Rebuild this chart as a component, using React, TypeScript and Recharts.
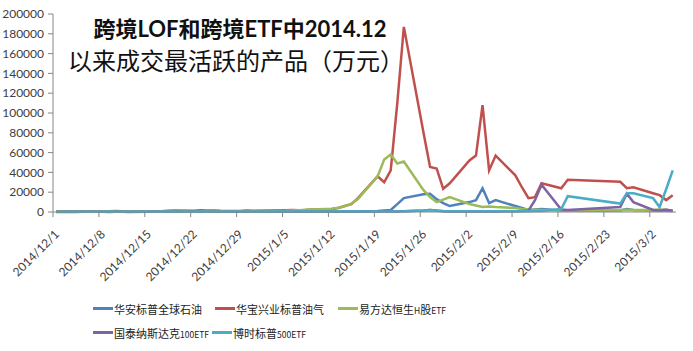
import React from 'react';
import { LineChart, Line, XAxis, YAxis, Legend } from 'recharts';

// trading days (x axis is a date axis, weekends/holidays are skipped)
const tradeDates = [
  '2014/12/1', '2014/12/2', '2014/12/3', '2014/12/4', '2014/12/5',
  '2014/12/8', '2014/12/9', '2014/12/10', '2014/12/11', '2014/12/12',
  '2014/12/15', '2014/12/16', '2014/12/17', '2014/12/18', '2014/12/19',
  '2014/12/22', '2014/12/23', '2014/12/24', '2014/12/25', '2014/12/26',
  '2014/12/29', '2014/12/30', '2014/12/31',
  '2015/1/5', '2015/1/6', '2015/1/7', '2015/1/8', '2015/1/9',
  '2015/1/12', '2015/1/13', '2015/1/14', '2015/1/15', '2015/1/16',
  '2015/1/19', '2015/1/20', '2015/1/21', '2015/1/22', '2015/1/23',
  '2015/1/26', '2015/1/27', '2015/1/28', '2015/1/29', '2015/1/30',
  '2015/2/2', '2015/2/3', '2015/2/4', '2015/2/5', '2015/2/6',
  '2015/2/9', '2015/2/10', '2015/2/11', '2015/2/12', '2015/2/13',
  '2015/2/16', '2015/2/17',
  '2015/2/25', '2015/2/26', '2015/2/27',
  '2015/3/2', '2015/3/3', '2015/3/4', '2015/3/5',
];

const tickLabels = [
  '2014/12/1', '2014/12/8', '2014/12/15', '2014/12/22', '2014/12/29',
  '2015/1/5', '2015/1/12', '2015/1/19', '2015/1/26', '2015/2/2',
  '2015/2/9', '2015/2/16', '2015/2/23', '2015/3/2',
];

const yTicks = [0, 20000, 40000, 60000, 80000, 100000, 120000, 140000, 160000, 180000, 200000];

// 华安标普全球石油
const huaAn = [
  200, 200, 300, 200, 200, 300, 200, 300, 200, 300, 300, 200, 300, 400, 300, 300, 400, 300, 300, 200, 300, 300, 400,
  400, 500, 400, 500, 600, 500, 600, 700, 600, 800, 900, 1500, 2000, 8000, 14000, 18000, 18500, 13000, 9000, 6000,
  10000, 12000, 24000, 9000, 12000, 6000, 4000, 2000, 2500, 3000, 1500, 1500, 1500, 3000, 2000,
  1500, 1500, 1200, 1000,
];
// 华宝兴业标普油气
const huaBao = [
  600, 500, 500, 600, 700, 600, 800, 900, 700, 600, 700, 600, 800, 1200, 1500, 1300, 1800, 1600, 1400, 1200, 1100, 1500, 1300,
  1800, 2000, 1700, 1900, 2500, 3000, 4000, 6000, 8000, 14000, 36000, 30000, 42000, 110000, 187000, 80000, 45500, 44000, 23500, 29000,
  52000, 57000, 108000, 42000, 57000, 37000, 25000, 14000, 15000, 29000, 24000, 32500, 30500, 24000, 25000,
  19000, 17000, 12000, 17000,
];
// 易方达恒生H股ETF
const yiFangDa = [
  300, 300, 400, 300, 400, 400, 500, 400, 400, 500, 600, 500, 600, 700, 800, 600, 700, 900, 800, 700, 600, 700, 800,
  1200, 1500, 1800, 2200, 2500, 3200, 4200, 6000, 8500, 13000, 36000, 53000, 58000, 49000, 51000, 22000, 15000, 10000, 12500, 15000,
  8000, 6500, 5000, 5500, 5000, 4000, 3000, 2500, 2200, 2000, 1800, 1600, 2000, 2200, 2000,
  2200, 2500, 2000, 1800,
];
// 国泰纳斯达克100ETF
const guoTai = [
  100, 100, 200, 100, 200, 200, 100, 200, 200, 100, 200, 200, 300, 200, 200, 300, 200, 200, 300, 200, 200, 300, 200,
  300, 300, 200, 300, 300, 400, 300, 300, 400, 300, 400, 500, 400, 600, 800, 1500, 2000, 1500, 800, 600,
  500, 600, 500, 600, 500, 800, 1000, 1500, 12000, 27500, 2500, 2000, 5000, 18500, 10000,
  2000, 1500, 2500, 1000,
];
// 博时标普500ETF
const boShi = [
  300, 300, 300, 300, 300, 300, 400, 300, 300, 300, 400, 300, 300, 400, 300, 300, 400, 300, 300, 300, 400, 300, 300,
  400, 400, 400, 500, 400, 500, 400, 500, 500, 400, 500, 600, 500, 600, 700, 1500, 2000, 1200, 900, 800,
  800, 700, 800, 700, 800, 700, 700, 800, 900, 1000, 3000, 16000, 8500, 19000, 19000,
  14000, 5000, 23000, 42000,
];

const series = [
  { key: 'huaAn', name: '华安标普全球石油', color: '#4F81BD', values: huaAn },
  { key: 'huaBao', name: '华宝兴业标普油气', color: '#C0504D', values: huaBao },
  { key: 'yiFangDa', name: '易方达恒生H股ETF', color: '#9BBB59', values: yiFangDa },
  { key: 'guoTai', name: '国泰纳斯达克100ETF', color: '#8064A2', values: guoTai },
  { key: 'boShi', name: '博时标普500ETF', color: '#4BACC6', values: boShi },
];

const dayOf = (s: string) => {
  const [y, m, d] = s.split('/').map(Number);
  return (Date.UTC(y, m - 1, d) - Date.UTC(2014, 11, 1)) / 86400000;
};

// points sit in the middle of their day slot, like an Excel date axis
const data = tradeDates.map((d, i) => {
  const row: Record<string, number | string> = { x: dayOf(d) + 0.5, date: d };
  series.forEach((s) => { row[s.key] = s.values[i]; });
  return row;
});

const xTicks = tickLabels.map(dayOf);
const labelOf: Record<number, string> = {};
tickLabels.forEach((t) => { labelOf[dayOf(t)] = t; });

const XTick = ({ x, y, payload }: any) => (
  <g transform={`translate(${x + 7},${y + 16})`}>
    <text x={0} y={0} transform="rotate(-45)" textAnchor="end" fontSize={12} fill="#404040" fontFamily="Lato, 'Noto Sans', sans-serif">
      {labelOf[payload.value]}
    </text>
  </g>
);

// legend item left edges, row by row
const legendLefts = [93, 215, 338, 93, 212];

// latin part of the names is set smaller, as in the source
const LegendName = ({ text }: { text: string }) => (
  <span style={{ fontSize: 11, color: '#222', fontFamily: "'Noto Sans CJK SC', sans-serif" }}>
    {text.split(/([A-Za-z0-9]+)/).map((p, i) =>
      /^[A-Za-z0-9]+$/.test(p) ? <span key={i} style={{ fontSize: 8.5 }}>{p}</span> : <span key={i}>{p}</span>
    )}
  </span>
);

const renderLegend = () => (
  <div style={{ position: 'relative', height: 50, width: 693 }}>
    {series.map((s, i) => (
      <div key={s.key} style={{ position: 'absolute', left: legendLefts[i], top: (i < 3 ? 0 : 1) * 24, height: 25, display: 'flex', alignItems: 'center', whiteSpace: 'nowrap' }}>
        <span style={{ display: 'inline-block', width: 20, height: 2.5, background: s.color, marginRight: 1 }} />
        <LegendName text={s.name} />
      </div>
    ))}
  </div>
);

export default function App() {
  return (
    <div style={{ position: 'absolute', left: 0, top: 0, width: 693, height: 351, background: '#fff' }}>
      <LineChart width={693} height={351} data={data} margin={{ top: 14, right: 17, bottom: 5, left: 0 }}>
        <XAxis
          dataKey="x"
          type="number"
          domain={[0, 95]}
          ticks={xTicks}
          interval={0}
          tick={<XTick />}
          height={84}
          tickSize={5}
          tickMargin={2}
          axisLine={{ stroke: '#868686' }}
          tickLine={{ stroke: '#868686' }}
        />
        <YAxis
          domain={[0, 200000]}
          ticks={yTicks}
          interval={0}
          width={53}
          tickSize={5}
          tickMargin={4}
          axisLine={{ stroke: '#868686' }}
          tickLine={{ stroke: '#868686' }}
          tick={{ fontSize: 12, fill: '#404040', fontFamily: "Lato, 'Noto Sans', sans-serif" }}
        />
        <Legend verticalAlign="bottom" height={50} content={renderLegend} wrapperStyle={{ height: 50 }} />
        {series.map((s) => (
          <Line
            key={s.key}
            type="linear"
            dataKey={s.key}
            name={s.name}
            stroke={s.color}
            strokeWidth={2.5}
            dot={false}
            activeDot={false}
            isAnimationActive={false}
          />
        ))}
      </LineChart>
      <svg width={693} height={90} style={{ position: 'absolute', left: 0, top: 0, pointerEvents: 'none' }}>
        <text x={240} y={37} textAnchor="middle" fontSize={22} fontWeight="bold" fill="#111" fontFamily="Lato, 'Noto Sans CJK SC', sans-serif">
          跨境LOF和跨境ETF中2014.12
        </text>
        <text x={236} y={70} textAnchor="middle" fontSize={24} fill="#111" fontFamily="'Noto Sans CJK SC', sans-serif">
          以来成交最活跃的产品（万元）
        </text>
      </svg>
    </div>
  );
}
